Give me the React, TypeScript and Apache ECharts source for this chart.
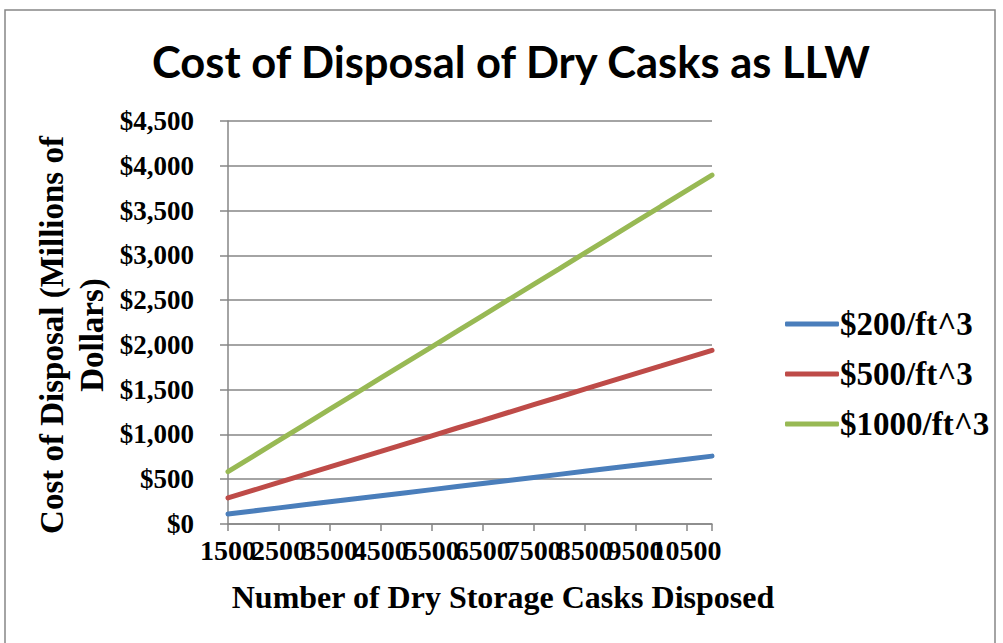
import React, { useEffect, useRef } from "react";
import * as echarts from "echarts";

const categories = [
  "1500", "2000", "2500", "3000", "3500", "4000", "4500", "5000", "5500", "6000",
  "6500", "7000", "7500", "8000", "8500", "9000", "9500", "10000", "10500", "11000",
];
const series200 = [112, 146, 180, 214, 248, 282, 316, 350, 384, 418, 452, 486, 520, 554, 588, 622, 656, 690, 724, 758];
const series500 = [291, 378, 464, 551, 638, 725, 811, 898, 985, 1072, 1158, 1245, 1332, 1418, 1505, 1592, 1679, 1765, 1852, 1939];
const series1000 = [585, 759, 933, 1108, 1282, 1456, 1631, 1805, 1979, 2153, 2328, 2502, 2676, 2850, 3025, 3199, 3373, 3548, 3722, 3896];
const seriesNames = ["$200/ft^3", "$500/ft^3", "$1000/ft^3"];
const colors = ["#4A7EBB", "#BE4B48", "#98B954"];

const serif = "'Liberation Serif', 'Times New Roman', serif";

export default function App() {
  const ref = useRef<HTMLDivElement>(null);
  useEffect(() => {
    document.body.style.margin = "0";
    const chart = echarts.init(ref.current!, null, { renderer: "svg" });
    const mk = (name: string, data: number[], color: string) => ({
      name,
      type: "line",
      data,
      symbol: "none",
      lineStyle: { color, width: 5, cap: "round" },
      itemStyle: { color },
    });
    chart.setOption({
      animation: false,
      backgroundColor: "#ffffff",
      title: {
        text: "Cost of Disposal of Dry Casks as LLW",
        left: 147,
        top: 34,
        textStyle: { fontFamily: "Lato", fontWeight: "bold", fontSize: 43.5, color: "#000" },
      },
      grid: { left: 228, top: 121, right: 291, bottom: 119, containLabel: false },
      xAxis: {
        type: "category",
        data: categories,
        boundaryGap: false,
        axisLine: { lineStyle: { color: "#868686", width: 1.5 } },
        axisTick: { show: true, interval: 1, length: 7, lineStyle: { color: "#868686", width: 1.5 } },
        axisLabel: {
          interval: 0,
          hideOverlap: false,
          showMinLabel: true,
          showMaxLabel: false,
          formatter: (value: string, index: number) => (index % 2 === 1 ? "" : value),
          margin: 12,
          fontFamily: serif,
          fontWeight: "bold",
          fontSize: 28,
          color: "#000",
        },
        splitLine: { show: false },
      },
      yAxis: {
        type: "value",
        min: 0,
        max: 4500,
        interval: 500,
        axisLine: { show: true, lineStyle: { color: "#868686", width: 1.5 } },
        axisTick: { show: true, length: 8, lineStyle: { color: "#868686", width: 1.5 } },
        axisLabel: {
          margin: 34,
          fontFamily: serif,
          fontWeight: "bold",
          fontSize: 27,
          color: "#000",
          formatter: (v: number) => "$" + v.toLocaleString("en-US"),
        },
        splitLine: { show: true, lineStyle: { color: "#868686", width: 1.5 } },
      },
      legend: {
        orient: "vertical",
        left: 780,
        top: 301,
        icon: "roundRect",
        itemWidth: 54,
        itemHeight: 5,
        itemGap: 14,
        data: seriesNames,
        textStyle: {
          fontFamily: serif,
          fontWeight: "bold",
          fontSize: 33,
          color: "#000",
          lineHeight: 36,
          padding: [0, 0, 0, -4],
        },
      },
      graphic: [
        {
          type: "rect",
          shape: { x: 5, y: 10, width: 990, height: 640 },
          style: { fill: "none", stroke: "#868686", lineWidth: 1.5 },
          silent: true,
        },
        {
          type: "text",
          x: 72,
          y: 335,
          rotation: Math.PI / 2,
          style: {
            text: "Cost of Disposal (Millions of\nDollars)",
            fontFamily: serif,
            fontWeight: "bold",
            fontSize: 33,
            lineHeight: 40,
            fill: "#000",
            align: "center",
            verticalAlign: "middle",
          },
        },
        {
          type: "text",
          x: 503,
          y: 597,
          style: {
            text: "Number of Dry Storage Casks Disposed",
            fontFamily: serif,
            fontWeight: "bold",
            fontSize: 32,
            fill: "#000",
            align: "center",
            verticalAlign: "middle",
          },
        },
      ],
      series: [
        mk(seriesNames[0], series200, colors[0]),
        mk(seriesNames[1], series500, colors[1]),
        mk(seriesNames[2], series1000, colors[2]),
      ],
    });
    return () => chart.dispose();
  }, []);
  return <div ref={ref} style={{ width: 1003, height: 643 }} />;
}
